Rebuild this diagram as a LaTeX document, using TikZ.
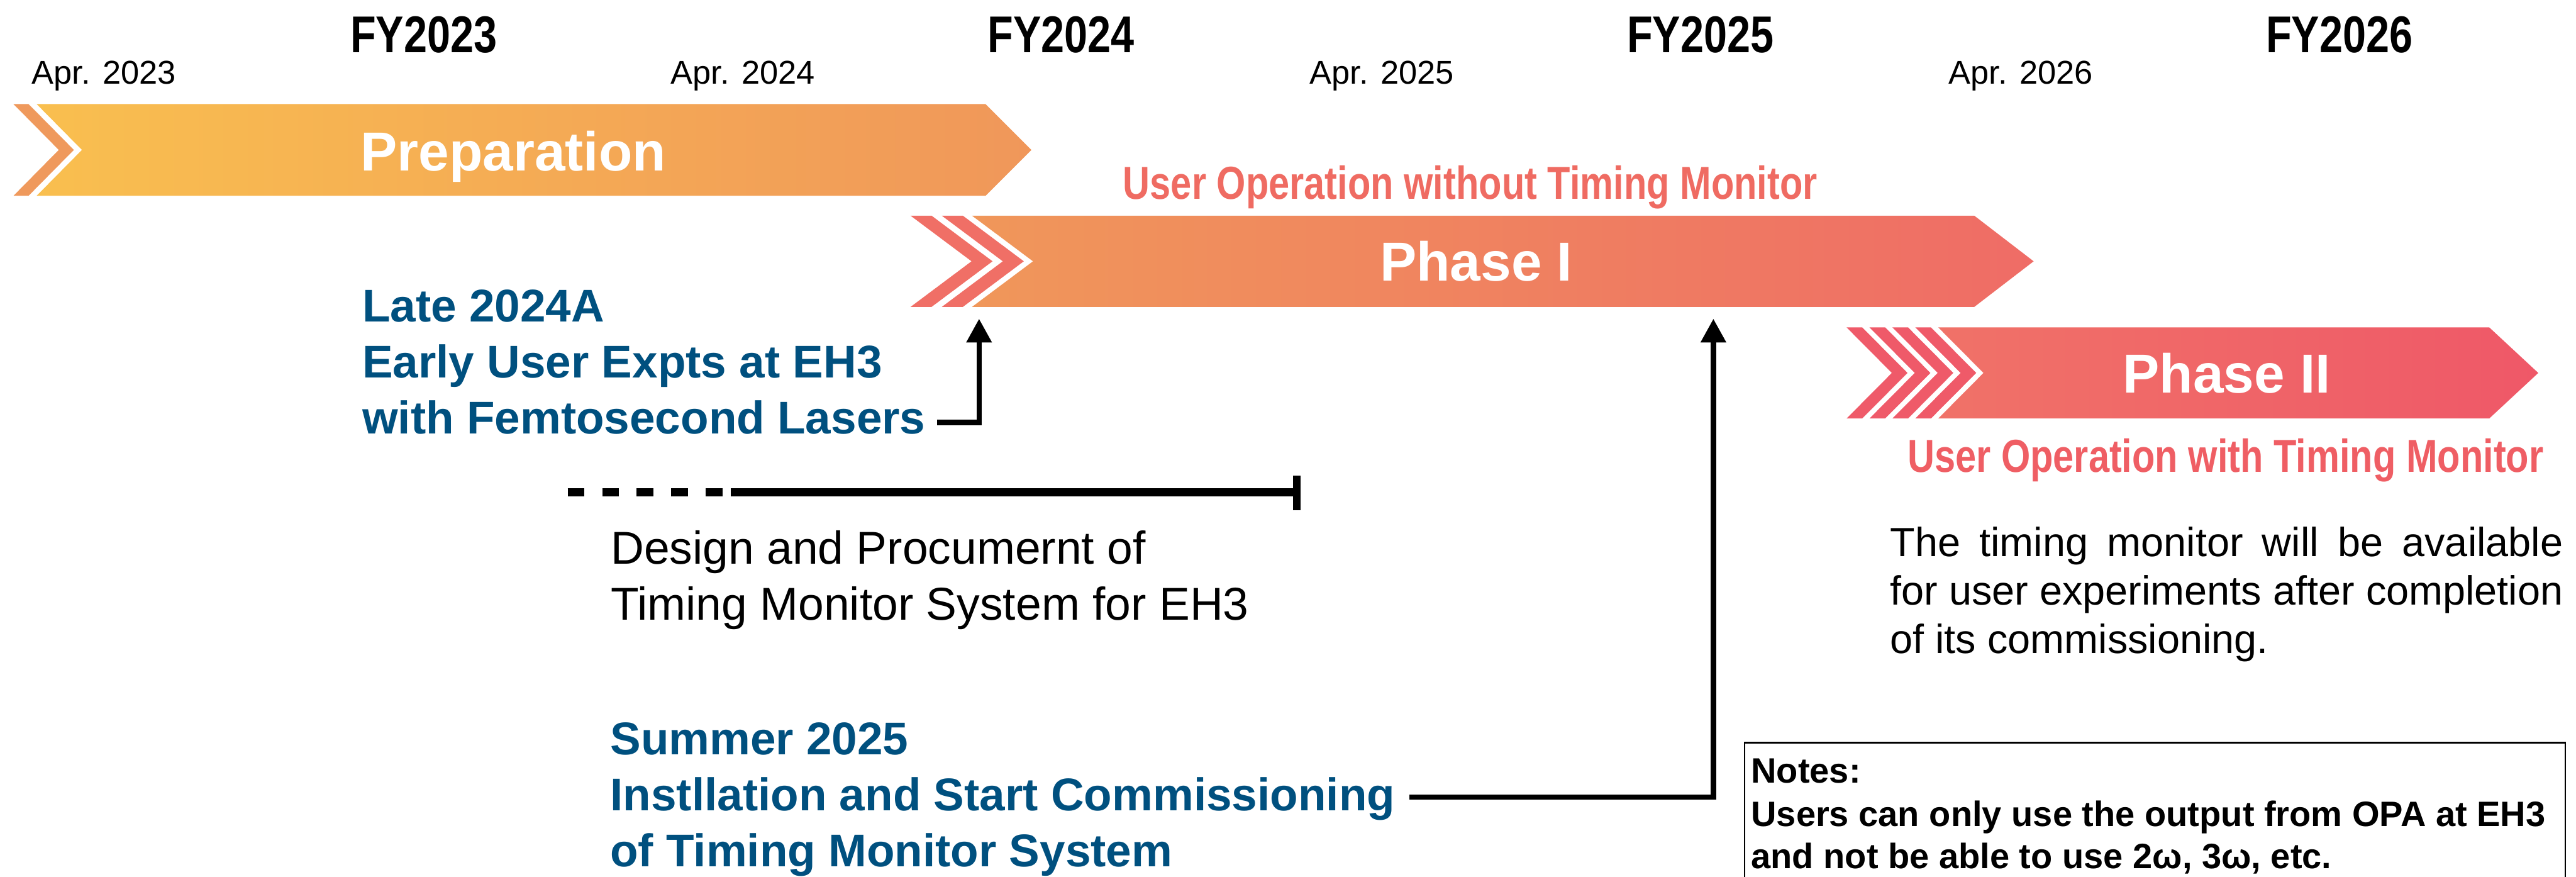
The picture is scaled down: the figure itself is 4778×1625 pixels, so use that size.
\documentclass[tikz,border=0pt]{standalone}
\usepackage{fontspec}
\setmainfont{Liberation Sans}
\newfontfamily\condsans[FakeStretch=0.81]{Liberation Sans}
\usetikzlibrary{arrows.meta}

\definecolor{prepL}{HTML}{F9BF4F}
\definecolor{prepR}{HTML}{F0975A}
\definecolor{prepchev}{HTML}{EF995C}
\definecolor{pIL}{HTML}{F0975A}
\definecolor{pIR}{HTML}{EF6C66}
\definecolor{pIchev}{HTML}{F06F66}
\definecolor{pIIL}{HTML}{F07268}
\definecolor{pIIR}{HTML}{EF5868}
\definecolor{pIIchev}{HTML}{EF5A69}
\definecolor{opsalmon}{HTML}{EF6B62}
\definecolor{opred}{HTML}{EF5E64}
\definecolor{msblue}{HTML}{00507F}

\newlength\pxu
\setlength\pxu{0.1mm}

\tikzset{
  txt/.style={inner sep=0pt, outer sep=0pt},
  fylabel/.style={txt, anchor=base, font=\condsans\bfseries\fontsize{27.3}{30}\selectfont},
  aprlabel/.style={txt, anchor=base, font=\fontsize{17.4}{20}\selectfont},
  bandlabel/.style={txt, anchor=base, text=white, font=\bfseries\fontsize{29}{32}\selectfont},
  opnote/.style={txt, anchor=base, font=\condsans\bfseries\fontsize{24.4}{28}\selectfont},
  milestone/.style={txt, anchor=base west, text=msblue, font=\bfseries\fontsize{24.2}{28}\selectfont},
  plaintext/.style={txt, anchor=base west, font=\fontsize{24.3}{28}\selectfont},
  paratext/.style={txt, anchor=base west, font=\fontsize{21.5}{25}\selectfont},
  notestext/.style={txt, anchor=base west, font=\bfseries\fontsize{18.6}{22}\selectfont},
  conn/.style={line width=2.85pt, -{Triangle[length=4.4mm,width=4.5mm]}},
  barline/.style={line width=4.3pt},
}

\begin{document}
\begin{tikzpicture}[x=0.1mm, y=-0.1mm]
\useasboundingbox (0,0) rectangle (4778,1625);
\clip (0,0) rectangle (4778,1625);

% ---- fiscal years and month marks
\foreach \x/\y in {786/2023, 1968/2024, 3154/2025, 4339/2026}
  \node[fylabel] (fy\y) at (\x,97) {FY\y};
\foreach \x/\y in {193/2023, 1378/2024, 2563/2025, 3748/2026}
  \node[aprlabel] (apr\y) at (\x,156) {Apr. \y};

% ---- Preparation band
\fill[prepchev] (25,193) -- ++(28,0) -- ++(84,85) -- ++(-84,85) -- ++(-28,0) -- ++(84,-85) -- cycle;
\shade[left color=prepL, right color=prepR]
  (68,193) -- (1828,193) -- (1913,278) -- (1828,363) -- (68,363) -- (152,278) -- cycle;
\node[bandlabel] (prep) at (952,317) {Preparation};

% ---- Phase I band
\foreach \x in {1689,1747}
  \fill[pIchev] (\x,400) -- ++(39,0) -- ++(113,84.5) -- ++(-113,84.5) -- ++(-39,0) -- ++(113,-84.5) -- cycle;
\shade[left color=pIL, right color=pIR]
  (1803,400) -- (3662,400) -- (3772,484.5) -- (3662,569) -- (1803,569) -- (1916,484.5) -- cycle;
\node[bandlabel] (phaseI) at (2738,521) {Phase I};
\node[opnote, text=opsalmon] (opwithout) at (2727,369) {User Operation without Timing Monitor};

% ---- Phase II band
\foreach \x in {3425,3467.5,3510,3552.5}
  \fill[pIIchev] (\x,607) -- ++(29,0) -- ++(84,84.5) -- ++(-84,84.5) -- ++(-29,0) -- ++(84,-84.5) -- cycle;
\shade[left color=pIIL, right color=pIIR]
  (3595,607) -- (4617,607) -- (4708,691.5) -- (4617,776) -- (3595,776) -- (3679,691.5) -- cycle;
\node[bandlabel] (phaseII) at (4130,728) {Phase II};
\node[opnote, text=opred] (opwith) at (4128,875) {User Operation with Timing Monitor};

% ---- early user experiments
\node[milestone] (late1) at (672,597) {Late 2024A};
\node[milestone] (late2) at (672,701) {Early User Expts at EH3};
\node[milestone] (late3) at (672,804) {with Femtosecond Lasers};
\coordinate (lateout) at (1738,783);
\coordinate (pIstart) at (1816,591);
\draw[conn] (lateout) -| (pIstart);

% ---- design and procurement period
\coordinate (dsA) at (1053,913);
\coordinate (dsB) at (1340,913);
\coordinate (dsC) at (1356,913);
\coordinate (dsD) at (2405,913);
\coordinate (tickT) at (2405,882);
\coordinate (tickB) at (2405,946);
\draw[barline, dash pattern=on 3.1mm off 3.3mm] (dsA) -- (dsB);
\draw[barline] (dsC) -- (dsD);
\draw[line width=4pt] (tickT) -- (tickB);
\node[plaintext] (des1) at (1133,1046) {Design and Procumernt of};
\node[plaintext] (des2) at (1133,1150) {Timing Monitor System for EH3};

% ---- installation and commissioning
\node[milestone] (sum1) at (1132,1399) {Summer 2025};
\node[milestone] (sum2) at (1132,1503) {Instllation and Start Commissioning};
\node[milestone] (sum3) at (1132,1607) {of Timing Monitor System};
\coordinate (sumout) at (2614,1478);
\coordinate (pImid) at (3178,591);
\draw[conn] (sumout) -| (pImid);

% ---- availability remark
\node[paratext] (para1) at (3506,1032) {\makebox[1248\pxu][s]{The timing monitor will be available}};
\node[paratext] (para2) at (3506,1122) {\makebox[1248\pxu][s]{for user experiments after completion}};
\node[paratext] (para3) at (3506,1212) {of its commissioning.};

% ---- notes box
\draw[line width=0.9pt] (3236,1377) rectangle (4758,1700);
\node[notestext] (note1) at (3248,1452) {Notes:};
\node[notestext] (note2) at (3248,1532) {Users can only use the output from OPA at EH3};
\node[notestext] (note3) at (3248,1610) {and not be able to use 2ω, 3ω, etc.};
\end{tikzpicture}
\end{document}
